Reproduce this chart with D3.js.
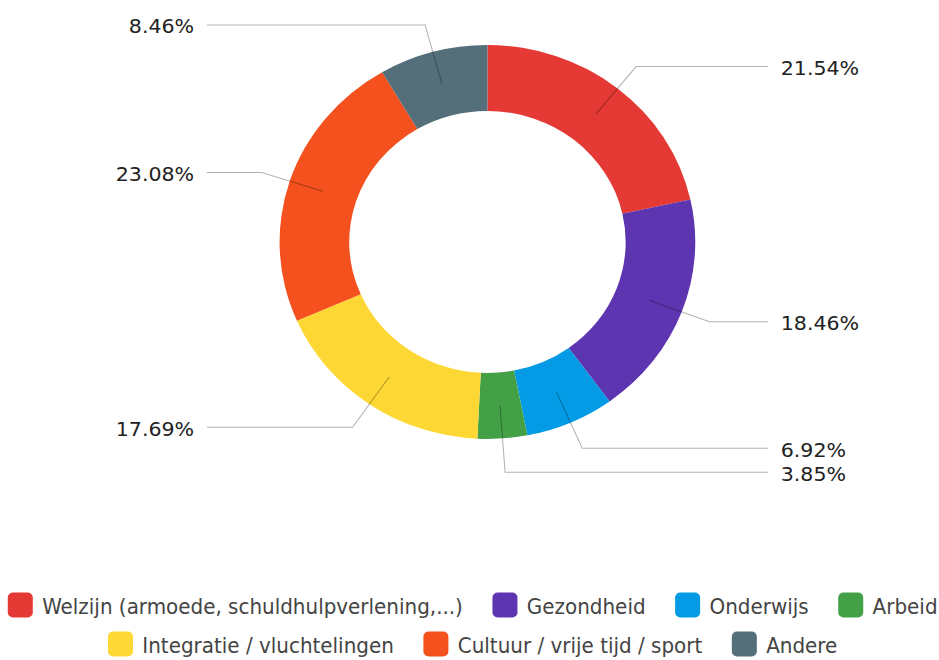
<!DOCTYPE html>
<html>
<head>
<meta charset="utf-8">
<script src="https://cdn.jsdelivr.net/npm/d3@7/dist/d3.min.js"></script>
<style>
  html, body { margin: 0; padding: 0; background: #fff; }
  svg { display: block; }
</style>
</head>
<body>
<div id="chart"></div>
<script>
// Domains of activity and their share of responses (%)
const categories = [
  "Welzijn (armoede, schuldhulpverlening,...)",
  "Gezondheid",
  "Onderwijs",
  "Arbeid",
  "Integratie / vluchtelingen",
  "Cultuur / vrije tijd / sport",
  "Andere"
];
const shares = [21.54, 18.46, 6.92, 3.85, 17.69, 23.08, 8.46];
const colors = ["#E53935", "#5E35B1", "#039BE5", "#43A047", "#FDD835", "#F4511E", "#546E7A"];

const W = 939, H = 660;
const VW = 890;               // drawing space is stretched horizontally to fill the page
const cx = 462, cy = 242;
const rOuter = 197, rInner = 131;
const rStart = 164, rElbow = 225;
const lineReach = 266, textGap = 12, minGap = 24;

const svg = d3.select("#chart").append("svg")
  .attr("width", W).attr("height", H)
  .attr("viewBox", `0 0 ${VW} ${H}`)
  .attr("preserveAspectRatio", "none");

const pie = d3.pie().sort(null).value(d => d);
const arcs = pie(shares);
const arc = d3.arc().innerRadius(rInner).outerRadius(rOuter);

const g = svg.append("g").attr("transform", `translate(${cx},${cy})`);
g.selectAll("path.slice").data(arcs).join("path")
  .attr("class", "slice")
  .attr("d", arc)
  .attr("fill", (d, i) => colors[i]);

// Leader lines and percentage labels
const fmt = d3.format(".2f");
const items = arcs.map((d, i) => {
  const a = (d.startAngle + d.endAngle) / 2;
  const side = Math.sin(a) >= 0 ? 1 : -1;
  return {
    i, a, side,
    sx: rStart * Math.sin(a), sy: -rStart * Math.cos(a),
    ey: -rElbow * Math.cos(a)
  };
});
// keep labels on each side apart
[1, -1].forEach(side => {
  const s = items.filter(o => o.side === side).sort((p, q) => p.ey - q.ey);
  for (let k = 1; k < s.length; k++) {
    if (s[k].ey - s[k - 1].ey < minGap) s[k].ey = s[k - 1].ey + minGap;
  }
});
items.forEach(o => {
  const r = o.ey / -Math.cos(o.a);
  o.ex = r * Math.sin(o.a);
  o.lx = o.side * lineReach;
});

g.selectAll("polyline.leader").data(items).join("polyline")
  .attr("class", "leader")
  .attr("points", o => `${o.sx},${o.sy} ${o.ex},${o.ey} ${o.lx},${o.ey}`)
  .attr("fill", "none")
  .attr("stroke", "#000")
  .attr("stroke-opacity", 0.3)
  .attr("stroke-width", 1);

g.selectAll("text.pct").data(items).join("text")
  .attr("class", "pct")
  .attr("x", o => o.side > 0 ? o.lx + textGap : o.lx - textGap)
  .attr("y", o => o.ey + 8.5)
  .attr("text-anchor", o => o.side > 0 ? "start" : "end")
  .attr("font-family", "'DejaVu Sans', sans-serif")
  .attr("font-size", 19.5)
  .attr("fill", "#222")
  .text(o => fmt(shares[o.i]) + "%");

// Legend, wrapped into centred rows
const legendFontFamily = "'DejaVu Sans', sans-serif";
const legendFont = 21, sw = 23.7, sh = 25, swGap = 8.9, itemGap = 28;
const legendCenter = 448, maxRow = 890;
const rowY = [605, 644];
const legend = svg.append("g");
const styleText = sel => sel
  .attr("font-family", legendFontFamily)
  .attr("font-stretch", "condensed")
  .style("font-stretch", "condensed")
  .attr("font-size", legendFont);
const measure = legend.append("text").call(styleText);
const widths = categories.map(c => { measure.text(c); return measure.node().getComputedTextLength(); });
measure.remove();

const rows = [[]];
let cur = 0;
categories.forEach((c, i) => {
  const w = sw + swGap + widths[i];
  const add = rows[rows.length - 1].length ? itemGap + w : w;
  if (cur + add > maxRow && rows[rows.length - 1].length) { rows.push([]); cur = w; }
  else cur += add;
  rows[rows.length - 1].push(i);
});
rows.forEach((row, r) => {
  const total = row.reduce((s, i, k) => s + sw + swGap + widths[i] + (k ? itemGap : 0), 0);
  let x = legendCenter - total / 2;
  const y = rowY[r];
  row.forEach(i => {
    legend.append("rect")
      .attr("x", x).attr("y", y - sh / 2)
      .attr("width", sw).attr("height", sh)
      .attr("rx", 5).attr("ry", 5)
      .attr("fill", colors[i]);
    legend.append("text")
      .call(styleText)
      .attr("x", x + sw + swGap).attr("y", y + 9)
      .attr("fill", "#444")
      .text(categories[i]);
    x += sw + swGap + widths[i] + itemGap;
  });
});
</script>
</body>
</html>
